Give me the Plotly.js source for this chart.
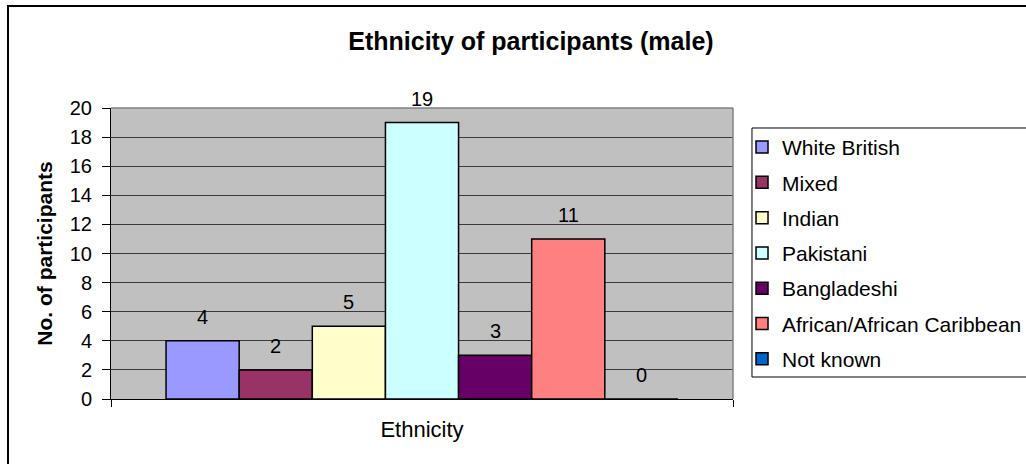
<!DOCTYPE html>
<html>
<head>
<meta charset="utf-8">
<script src="https://cdn.plot.ly/plotly-3.0.1.min.js"></script>
<style>
  html, body { margin: 0; padding: 0; background: #fff; }
  #chart { width: 1026px; height: 464px; }
</style>
</head>
<body>
<div id="chart"></div>
<script>
// Male participants by ethnicity
const categories = ['Ethnicity'];
const groups = ['White British', 'Mixed', 'Indian', 'Pakistani', 'Bangladeshi', 'African/African Caribbean', 'Not known'];
const counts = [4, 2, 5, 19, 3, 11, 0];
const colors = ['#9999FF', '#993366', '#FFFFCC', '#CCFFFF', '#660066', '#FF8080', '#0066CC'];
const yTicks = [0, 2, 4, 6, 8, 10, 12, 14, 16, 18, 20];

const FONT = 'Liberation Sans, Arial, sans-serif';
const BAR_GAP = 0.177;

const traces = groups.map((g, i) => ({
  type: 'bar',
  name: g,
  x: categories,
  y: [counts[i]],
  legendgroup: 'g' + i,
  marker: { color: colors[i], line: { color: '#000', width: 1.5 } },
  hoverinfo: 'none'
}));

// value labels above each bar, centred on its slot in the group
const groupWidth = 1 - BAR_GAP;
const slot = groupWidth / groups.length;
const labels = groups.map((g, i) => ({
  xref: 'x', yref: 'y',
  x: -groupWidth / 2 + (i + 0.5) * slot,
  y: counts[i],
  text: String(counts[i]),
  showarrow: false,
  yanchor: 'middle',
  yshift: 24,
  font: { family: FONT, size: 20, color: '#000' }
}));

const layout = {
  width: 1026,
  height: 464,
  margin: { l: 111, r: 293, t: 108, b: 65, autoexpand: false },
  paper_bgcolor: '#fff',
  plot_bgcolor: '#C0C0C0',
  font: { family: FONT, color: '#000' },
  barmode: 'group',
  bargap: BAR_GAP,
  bargroupgap: 0,
  title: {
    text: '<b>Ethnicity of participants (male)</b>',
    font: { family: FONT, size: 25, color: '#000' },
    xref: 'container', x: 0.5175,
    yref: 'container', y: 0.911, yanchor: 'middle'
  },
  xaxis: {
    type: 'category',
    range: [-0.5, 0.5],
    showticklabels: false,
    ticks: 'outside',
    tickson: 'boundaries',
    ticklen: 7,
    tickcolor: '#000',
    showline: true,
    linecolor: '#000',
    linewidth: 1,
    showgrid: false,
    zeroline: false,
    fixedrange: true,
    title: { text: 'Ethnicity', font: { family: FONT, size: 22, color: '#000' }, standoff: 22 }
  },
  yaxis: {
    range: [0, 20],
    tickvals: yTicks,
    ticktext: yTicks.map(String),
    ticks: 'outside',
    ticklen: 8,
    tickcolor: '#000',
    ticklabelstandoff: 6,
    tickfont: { family: FONT, size: 20, color: '#000' },
    showline: true,
    linecolor: '#000',
    linewidth: 1,
    showgrid: true,
    gridcolor: '#3a3a3a',
    gridwidth: 1,
    zeroline: false,
    fixedrange: true,
    title: { text: '<b>No. of participants</b>', font: { family: FONT, size: 21, color: '#000' }, standoff: 11 }
  },
  showlegend: true,
  legend: {
    x: 1.0145, xanchor: 'left',
    y: 0.935, yanchor: 'top',
    bgcolor: 'rgba(0,0,0,0)',
    borderwidth: 0,
    font: { family: FONT, size: 21, color: '#000' },
    traceorder: 'grouped',
    tracegroupgap: 5
  },
  shapes: [
    // chart frame
    { type: 'rect', xref: 'paper', yref: 'paper', x0: -0.1656, x1: 1.8, y0: -0.6, y1: 1.3505,
      line: { color: '#000', width: 2 }, fillcolor: 'rgba(0,0,0,0)', layer: 'below' },
    // plot area top and right edges
    { type: 'line', xref: 'paper', yref: 'paper', x0: 0, x1: 1, y0: 1, y1: 1,
      line: { color: '#808080', width: 1.5 } },
    { type: 'line', xref: 'paper', yref: 'paper', x0: 1, x1: 1, y0: 0, y1: 1,
      line: { color: '#808080', width: 1.5 } },
    // legend box
    { type: 'rect', xref: 'paper', yref: 'paper', x0: 1.0305, x1: 1.8, y0: 0.0756, y1: 0.9313,
      line: { color: '#000', width: 1 }, fillcolor: '#fff', layer: 'below' }
  ],
  annotations: labels
};

Plotly.newPlot('chart', traces, layout, { staticPlot: true, displayModeBar: false });
</script>
</body>
</html>
